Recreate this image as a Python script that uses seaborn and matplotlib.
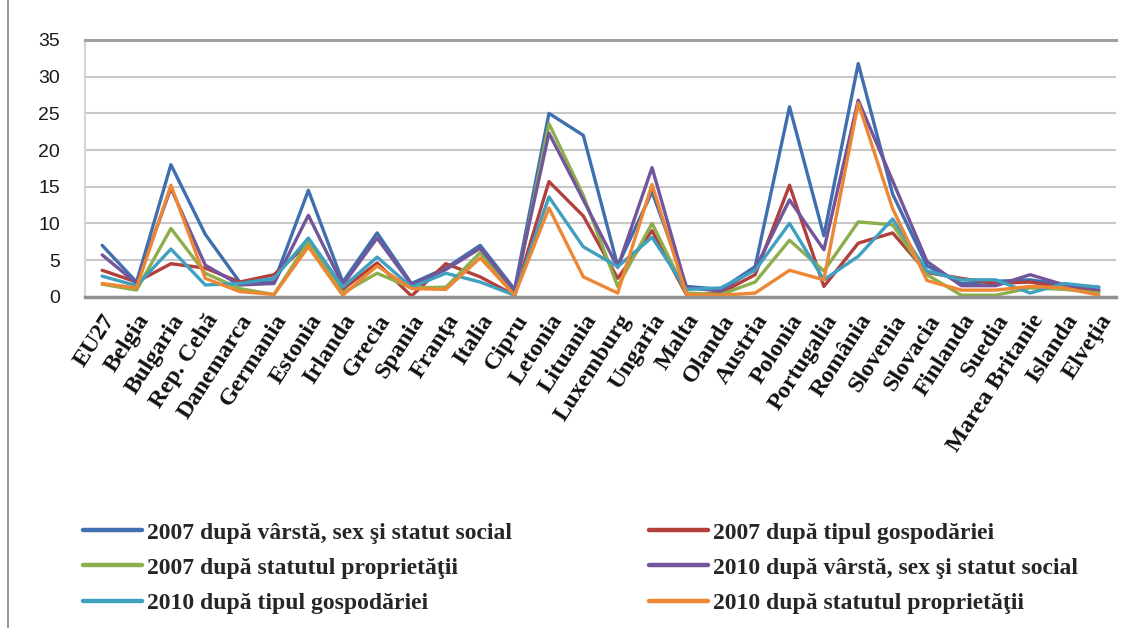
import matplotlib
matplotlib.use("Agg")
import matplotlib.pyplot as plt
from matplotlib.lines import Line2D
import seaborn as sns
import pandas as pd

# Countries on the category axis
countries = ["EU27", "Belgia", "Bulgaria", "Rep. Cehă", "Danemarca", "Germania",
             "Estonia", "Irlanda", "Grecia", "Spania", "Franţa", "Italia", "Cipru",
             "Letonia", "Lituania", "Luxemburg", "Ungaria", "Malta", "Olanda",
             "Austria", "Polonia", "Portugalia", "România", "Slovenia", "Slovacia",
             "Finlanda", "Suedia", "Marea Britanie", "Islanda", "Elveţia"]

series_names = ["2007 după vârstă, sex şi statut social",
                "2007 după tipul gospodăriei",
                "2007 după statutul proprietăţii",
                "2010 după vârstă, sex şi statut social",
                "2010 după tipul gospodăriei",
                "2010 după statutul proprietăţii"]

v2007_age = [7.0, 2.0, 18.0, 8.5, 2.0, 2.0, 14.5, 2.0, 8.7, 1.8, 3.9, 7.0, 1.0,
             25.0, 22.0, 4.2, 14.3, 1.4, 1.0, 4.1, 25.9, 8.3, 31.8, 14.0, 4.2,
             1.8, 2.1, 2.3, 1.6, 1.3]
v2007_household = [3.6, 2.0, 4.5, 3.9, 2.0, 3.0, 7.3, 1.0, 4.6, 0.1, 4.5, 2.7, 0.2,
                   15.7, 11.0, 2.5, 9.0, 0.3, 0.5, 3.0, 15.2, 1.4, 7.3, 8.7, 3.3,
                   2.5, 1.8, 2.0, 1.2, 0.8]
v2007_ownership = [1.7, 0.9, 9.3, 3.2, 1.1, 0.3, 7.5, 0.5, 3.2, 1.2, 1.3, 6.0, 0.2,
                   23.6, 13.8, 1.4, 10.0, 0.5, 0.3, 2.0, 7.7, 3.5, 10.2, 9.8, 3.0,
                   0.2, 0.2, 1.2, 1.0, 0.5]
v2010_age = [5.7, 1.8, 14.8, 4.3, 1.6, 1.8, 11.1, 1.6, 8.0, 1.6, 3.7, 6.6, 0.8,
             22.3, 13.2, 4.0, 17.6, 1.2, 0.8, 3.8, 13.2, 6.4, 26.8, 15.8, 4.8,
             1.5, 1.5, 3.0, 1.6, 1.0]
v2010_household = [2.8, 1.5, 6.5, 1.6, 1.8, 2.5, 8.0, 1.3, 5.4, 1.3, 3.2, 2.0, 0.2,
                   13.6, 6.8, 4.1, 8.1, 1.0, 1.2, 3.6, 10.0, 2.3, 5.5, 10.6, 3.5,
                   2.3, 2.3, 0.5, 1.8, 1.3]
v2010_ownership = [1.8, 1.2, 15.2, 2.5, 0.7, 0.3, 6.8, 0.2, 4.2, 1.1, 1.0, 5.3, 0.2,
                   12.1, 2.7, 0.5, 15.3, 0.3, 0.2, 0.5, 3.6, 2.3, 26.4, 12.0, 2.2,
                   0.9, 0.9, 1.4, 1.2, 0.2]

colors = ["#3f6fae", "#b23f3c", "#8cae4c", "#72559a", "#3fa0bf", "#ee8733"]

values = [v2007_age, v2007_household, v2007_ownership,
          v2010_age, v2010_household, v2010_ownership]

rows = []
for name, vals in zip(series_names, values):
    for c, v in zip(countries, vals):
        rows.append({"country": c, "value": v, "series": name})
df = pd.DataFrame(rows)

sns.set_theme(style="white")
W, H = 1133, 628
fig = plt.figure(figsize=(W / 100, H / 100), dpi=100)
fig.patch.set_facecolor("white")

left, right, top, bottom = 85, 1116, 40, 296.7
ax = fig.add_axes([left / W, 1 - bottom / H, (right - left) / W, (bottom - top) / H])

sns.lineplot(data=df, x="country", y="value", hue="series",
             hue_order=series_names, palette=colors, sort=False,
             linewidth=2.4, ax=ax, legend=False)

ax.set_xlim(-0.5, len(countries) - 0.5)
ax.set_ylim(0, 35)
ax.set_yticks(range(0, 36, 5))
ax.set_xlabel("")
ax.set_ylabel("")
ax.yaxis.grid(True, color="#c8c8c8", linewidth=1.5)
ax.set_axisbelow(True)

ax.spines["right"].set_visible(False)
ax.spines["left"].set_color("#d4d4d4")
ax.spines["left"].set_linewidth(1.5)
ax.spines["top"].set_color("#a0a0a0")
ax.spines["top"].set_linewidth(2.2)
ax.spines["bottom"].set_color("#909090")
ax.spines["bottom"].set_linewidth(2.5)

ax.tick_params(axis="both", length=0)
ax.tick_params(axis="y", pad=18)
for lbl in ax.get_yticklabels():
    lbl.set_fontfamily("Liberation Sans")
    lbl.set_fontsize(14)
    lbl.set_color("#1a1a1a")

ax.set_xticks(range(len(countries)))
ax.set_xticklabels(countries, rotation=57, ha="right", rotation_mode="anchor",
                   fontfamily="Liberation Serif", fontweight="bold",
                   fontsize=17.5, color="#111111")
ax.tick_params(axis="x", pad=10)

# Legend laid out as two columns of three rows
handles = [Line2D([], [], color=c, linewidth=3.2) for c in colors]
leg_kw = dict(frameon=False, handlelength=2.5, handletextpad=0.2,
              labelspacing=0.58, borderaxespad=0, borderpad=0,
              prop={"family": "Liberation Serif", "weight": "bold", "size": 17})
leg1 = fig.legend([handles[0], handles[2], handles[4]],
                  [series_names[0], series_names[2], series_names[4]],
                  loc="upper left", bbox_to_anchor=(83 / W, 1 - 522 / H), **leg_kw)
leg2 = fig.legend([handles[1], handles[3], handles[5]],
                  [series_names[1], series_names[3], series_names[5]],
                  loc="upper left", bbox_to_anchor=(649 / W, 1 - 522 / H), **leg_kw)

# Left frame edge of the chart area
fig.add_artist(Line2D([8 / W, 8 / W], [0, 1], color="#9a9a9a", linewidth=1.5,
                      transform=fig.transFigure))

fig.savefig("out.png", dpi=100)
